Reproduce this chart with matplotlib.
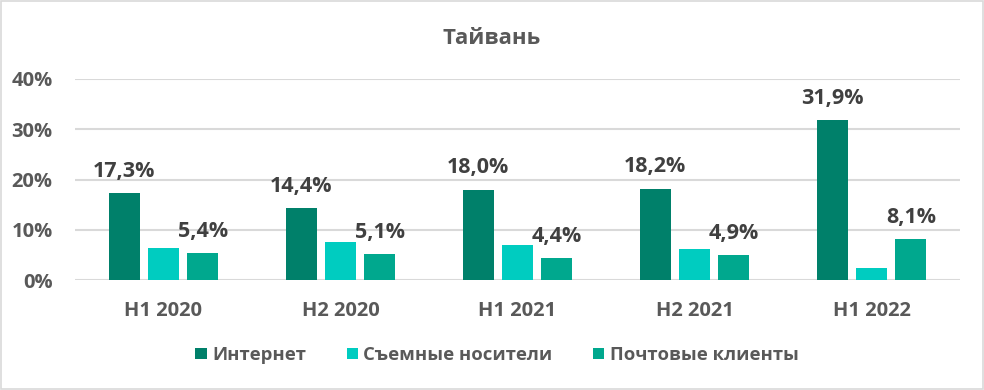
import matplotlib
matplotlib.use("Agg")
import matplotlib.pyplot as plt
from matplotlib.patches import Rectangle
import numpy as np

plt.rcParams['font.family'] = ['Open Sans', 'DejaVu Sans']

categories = ["H1 2020", "H2 2020", "H1 2021", "H2 2021", "H1 2022"]
series_names = ["Интернет", "Съемные носители", "Почтовые клиенты"]
internet = [17.3, 14.4, 18.0, 18.2, 31.9]
removable = [6.3, 7.6, 7.0, 6.1, 2.3]
mail = [5.4, 5.1, 4.4, 4.9, 8.1]
colors = ["#00806A", "#00CCC0", "#00A88E"]
yticks = [0, 10, 20, 30, 40]

fig = plt.figure(figsize=(9.84, 3.90), dpi=100)
ax = fig.add_axes([75/984, 1-280/390, (960-75)/984, (280-79)/390])

x = np.arange(len(categories))
w = 0.175
step = 0.223
series = [internet, removable, mail]
for i, (vals, c) in enumerate(zip(series, colors)):
    bars = ax.bar(x + (i-1)*step, vals, width=w, color=c, label=series_names[i], zorder=3)
    if i != 1:
        for xi, v in zip(x + (i-1)*step, vals):
            ax.annotate(f"{v:.1f}".replace(".", ",") + "%", (xi, v), xytext=(0, 8),
                        textcoords="offset points", ha="center", va="bottom",
                        fontsize=15.5, fontweight="bold", color="#404040")

ax.set_xlim(-0.5, len(categories)-0.5)
ax.set_ylim(0, 40)
ax.set_yticks(yticks)
ax.set_yticklabels([f"{t}%" for t in yticks], fontsize=14.5, fontweight="bold", color="#595959")
ax.set_xticks(x)
ax.set_xticklabels(categories, fontsize=14.5, fontweight="bold", color="#595959")
ax.tick_params(axis="both", length=0)
ax.tick_params(axis="y", pad=16)
ax.tick_params(axis="x", pad=15)
ax.grid(axis="y", color="#D9D9D9", linewidth=1.5, zorder=0)
for s in ax.spines.values():
    s.set_visible(False)

fig.text(492/984, 1-38/390, "Тайвань", ha="center", va="center", fontsize=16,
         fontweight="bold", color="#595959")

leg = fig.legend(loc="center", bbox_to_anchor=(497/984, 1-355/390), ncol=3, frameon=False,
                 prop={"size": 13.3, "weight": "bold"}, handlelength=0.6, handleheight=0.6,
                 handletextpad=0.3, columnspacing=2.2, labelcolor="#595959")

fig.patches.append(Rectangle((1/984, 1/390), 982/984, 388/390, transform=fig.transFigure,
                             fill=False, edgecolor="#D9D9D9", linewidth=1.2))

fig.savefig("out.png", dpi=100, facecolor="white")
